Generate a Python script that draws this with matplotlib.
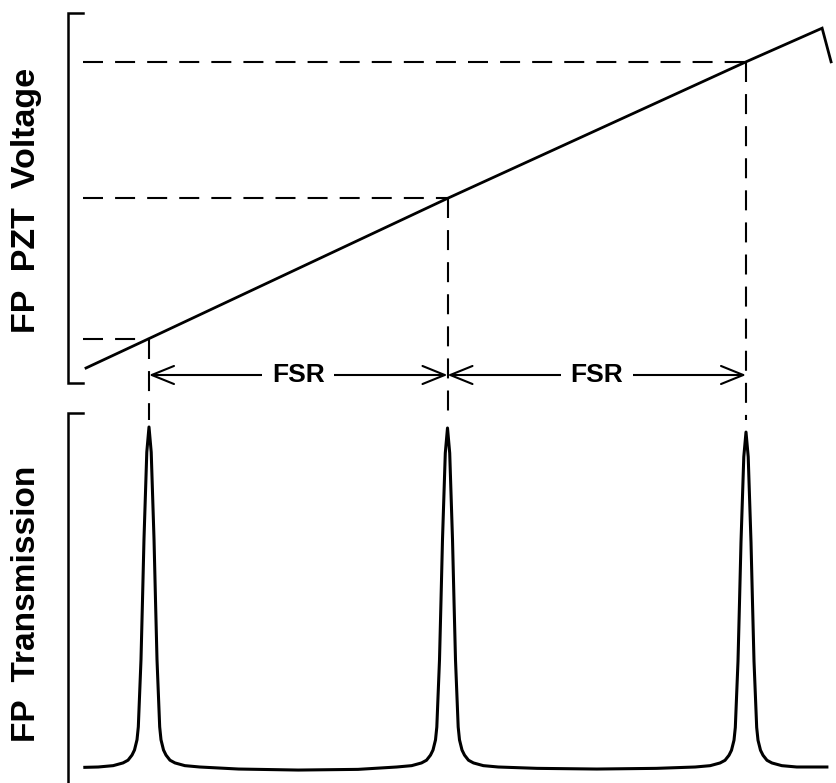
import numpy as np
import matplotlib
matplotlib.use('Agg')
import matplotlib.pyplot as plt

plt.rcParams['font.family'] = ['Liberation Sans', 'DejaVu Sans']

# scan axis in units of one free spectral range, transmission peaks at whole numbers
peak_t = [1.0, 2.0, 3.0]
peak_height = [1.003, 1.0, 0.988]

# PZT drive ramp (normalised voltage), last point is the start of the flyback
ramp_t = [0.789, 1.0, 2.0, 3.0, 3.255, 3.285]
ramp_v = [0.0405, 0.120, 0.499, 0.868, 0.959, 0.868]

# one side of a transmission peak: offset from line centre vs fraction of peak height
profile_dt = [0.0, 0.0074, 0.0168, 0.0218, 0.0268, 0.0358, 0.0402, 0.0486,
              0.057, 0.0703, 0.087, 0.12, 0.17]
profile_f = [1.0, 0.926, 0.67, 0.49, 0.316, 0.118, 0.08, 0.05,
             0.035, 0.02, 0.012, 0.004, 0.0]

# baseline before, between and after the peaks
gap_t = [[0.785], [1.3, 1.5, 1.7], [2.3, 2.5, 2.7], [3.271]]
gap_T = [[-0.001], [-0.006, -0.009, -0.007], [-0.004, -0.006, -0.004], [0.0]]

W, H = 836, 783
px_per_fsr = 298.5
x0 = 1.0 - 81 / px_per_fsr
x1 = 1.0 + (W - 149) / px_per_fsr

fig = plt.figure(figsize=(W / 100, H / 100), dpi=100)
ax_top = fig.add_axes([68 / W, 1 - 383 / H, 1 - 68 / W, 370 / H])
ax_bot = fig.add_axes([68 / W, 0, 1 - 68 / W, 370 / H])
for ax in (ax_top, ax_bot):
    ax.set_xlim(x0, x1)
    ax.axis('off')
ax_top.set_ylim(0, 1)
ax_bot.set_ylim(-16 / 339, 354 / 339)

tick = 15 / (W - 68)
ax_top.plot([tick, 0, 0, tick], [1, 1, 0, 0], transform=ax_top.transAxes,
            color='k', lw=1.8, clip_on=False, solid_joinstyle='miter')
ax_bot.plot([tick, 0, 0], [1, 1, -0.05], transform=ax_bot.transAxes,
            color='k', lw=1.8, clip_on=False, solid_joinstyle='miter')

# ramp
ax_top.plot(ramp_t, ramp_v, color='k', lw=2.0, solid_joinstyle='miter', zorder=3)

# dashed guides from each resonance down to its transmission peak
peak_v = np.interp(peak_t, ramp_t[:-1], ramp_v[:-1])
dash = (0, (9.6, 5.8))
for c, v in zip(peak_t, peak_v):
    ax_top.plot([x0 + 15 / px_per_fsr, c], [v, v], color='k', lw=1.5, ls=dash)
    ax_top.plot([c, c], [v, -0.1], color='k', lw=1.5, ls=dash, clip_on=False)

# FSR arrows
va = 8 / 370
for a, b in zip(peak_t[:-1], peak_t[1:]):
    ax_top.annotate('', xy=(b, va), xytext=(a, va),
                    arrowprops=dict(arrowstyle='<->,head_length=1.6,head_width=0.65',
                                    lw=1.5, color='k', shrinkA=0, shrinkB=0,
                                    mutation_scale=10))
    ax_top.text((a + b) / 2, va, 'FSR', ha='center', va='center', fontsize=19,
                fontweight='bold', zorder=5,
                bbox=dict(fc='white', ec='none', pad=7))

# transmission trace built from the peak profile
dt = np.array(profile_dt)
f = np.array(profile_f)
trace_t = list(gap_t[0])
trace_T = list(gap_T[0])
for i, (c, h) in enumerate(zip(peak_t, peak_height)):
    trace_t += list(c - dt[::-1]) + list(c + dt[1:]) + gap_t[i + 1]
    trace_T += list(h * f[::-1]) + list(h * f[1:]) + gap_T[i + 1]
ax_bot.plot(trace_t, trace_T, color='k', lw=2.2, solid_joinstyle='round')

fig.text(27 / W, 1 - 200 / H, 'FP  PZT  Voltage', rotation=90, ha='center',
         va='center', fontsize=24.5, fontweight='bold')
fig.text(27 / W, 1 - 604 / H, 'FP  Transmission', rotation=90, ha='center',
         va='center', fontsize=24, fontweight='bold')

fig.savefig('out.png', dpi=100, facecolor='white')
